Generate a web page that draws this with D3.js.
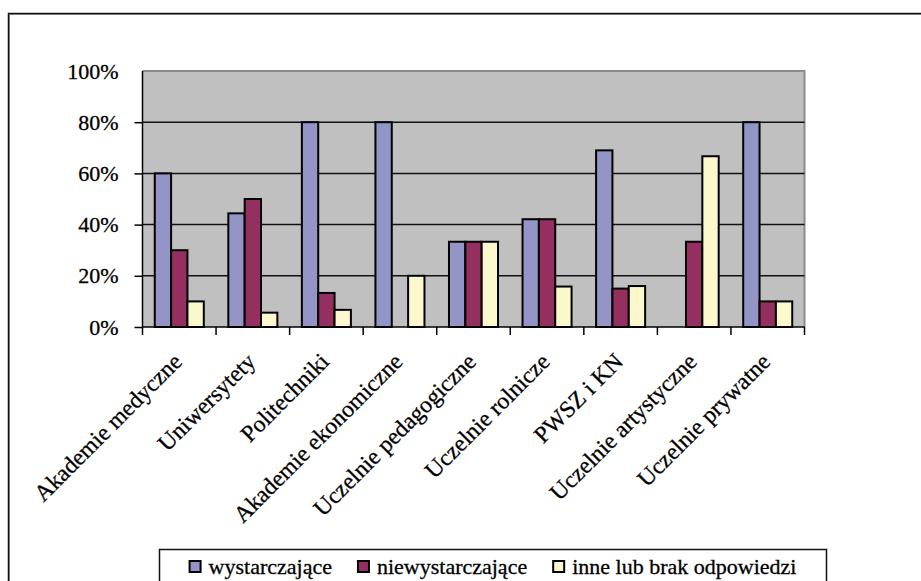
<!DOCTYPE html>
<html>
<head>
<meta charset="utf-8">
<script src="https://cdn.jsdelivr.net/npm/d3@7"></script>
<style>
  html, body { margin: 0; padding: 0; background: #fff; }
  svg { display: block; }
  svg text { font-family: "Liberation Serif", "Times New Roman", serif !important; fill: #000; stroke: #000; stroke-width: 0.3px; }
</style>
</head>
<body>
<svg id="chart" width="921" height="581"></svg>
<script>
// Type of higher-education institution
const categories = [
  "Akademie medyczne", "Uniwersytety", "Politechniki", "Akademie ekonomiczne",
  "Uczelnie pedagogiczne", "Uczelnie rolnicze", "PWSZ i KN",
  "Uczelnie artystyczne", "Uczelnie prywatne"
];
// Answer series (share of responses, %)
const seriesNames = ["wystarczające", "niewystarczające", "inne lub brak odpowiedzi"];
const wystarczajace    = [60, 44.4, 80, 80, 33.3, 42.1, 69, 0, 80];
const niewystarczajace = [30, 50, 13.3, 0, 33.3, 42.1, 15, 33.3, 10];
const inne             = [10, 5.6, 6.7, 20, 33.3, 15.8, 16, 66.7, 10];
const yTicks = [0, 20, 40, 60, 80, 100];
const seriesColors = ["#9494c7", "#952f5f", "#fbf8cd"];

const seriesValues = [wystarczajace, niewystarczajace, inne];
const serif = "'Liberation Serif', 'Times New Roman', serif";

const svg = d3.select("#chart");

// outer chart frame (runs off the right and bottom edges)
svg.append("path")
  .attr("d", "M8.5,600 V13.5 H930")
  .attr("fill", "none").attr("stroke", "#9a9a9a").attr("stroke-width", 1)
  .attr("transform", "translate(1,1)");
svg.append("path")
  .attr("d", "M8.5,600 V13.5 H930")
  .attr("fill", "none").attr("stroke", "#111").attr("stroke-width", 1.5);

const plot = { left: 142.5, right: 804.5, top: 71, bottom: 327 };

const x0 = d3.scaleBand()
  .domain(categories)
  .range([plot.left, plot.right])
  .paddingInner(0).paddingOuter(0);

const x1 = d3.scaleBand()
  .domain(d3.range(seriesNames.length))
  .range([0, x0.bandwidth()])
  .paddingInner(0).paddingOuter(0.75);

const y = d3.scaleLinear().domain([0, 100]).range([plot.bottom, plot.top]);

// plot area background
svg.append("rect")
  .attr("x", plot.left).attr("y", plot.top)
  .attr("width", plot.right - plot.left).attr("height", plot.bottom - plot.top)
  .attr("fill", "#c0c0c0");

// plot area border (top and right)
svg.append("path")
  .attr("d", `M${plot.left},${plot.top} H${plot.right} V${plot.bottom}`)
  .attr("fill", "none").attr("stroke", "#8a8a8a").attr("stroke-width", 2);

// horizontal gridlines
svg.append("g")
  .selectAll("line")
  .data(yTicks.filter(t => t > 0 && t < 100))
  .join("line")
  .attr("x1", plot.left).attr("x2", plot.right)
  .attr("y1", d => y(d)).attr("y2", d => y(d))
  .attr("stroke", "#111").attr("stroke-width", 1.5);

// bars
const groups = svg.append("g")
  .selectAll("g")
  .data(categories)
  .join("g")
  .attr("transform", d => `translate(${x0(d)},0)`);

groups.selectAll("rect")
  .data((d, i) => seriesValues.map((vals, s) => ({ s, v: vals[i] })))
  .join("rect")
  .filter(d => d.v > 0)
  .attr("x", d => x1(d.s))
  .attr("width", x1.bandwidth())
  .attr("y", d => y(d.v))
  .attr("height", d => y(0) - y(d.v))
  .attr("fill", d => seriesColors[d.s])
  .attr("stroke", "#000").attr("stroke-width", 2);

// y axis
const yAxis = d3.axisLeft(y)
  .tickValues(yTicks)
  .tickFormat(d => d + "%")
  .tickSize(8)
  .tickPadding(16);
const yg = svg.append("g")
  .attr("transform", `translate(${plot.left},0)`)
  .call(yAxis)
  .attr("font-family", serif);
yg.select(".domain").attr("stroke", "#000").attr("stroke-width", 1.5)
  .attr("d", `M0,${plot.bottom} V${plot.top}`);
yg.selectAll(".tick line").attr("stroke", "#000").attr("stroke-width", 1.5)
  .filter(d => d === 100).remove();
yg.selectAll(".tick text")
  .attr("font-size", 22)
  .style("font-family", serif)
  .attr("dy", "0.32em");

// x axis with ticks on category boundaries
const xg = svg.append("g");
xg.append("line")
  .attr("x1", plot.left).attr("x2", plot.right)
  .attr("y1", plot.bottom).attr("y2", plot.bottom)
  .attr("stroke", "#000").attr("stroke-width", 1.5);
const boundaries = categories.map(c => x0(c)).concat([plot.right]);
xg.selectAll("line.tick")
  .data(boundaries)
  .join("line")
  .attr("class", "tick")
  .attr("x1", d => d).attr("x2", d => d)
  .attr("y1", plot.bottom).attr("y2", plot.bottom + 8)
  .attr("stroke", "#000").attr("stroke-width", 1.5);

// rotated category labels
xg.selectAll("text.cat")
  .data(categories)
  .join("text")
  .attr("class", "cat")
  .attr("font-size", 23.5)
  .style("font-family", serif)
  .attr("text-anchor", "end")
  .attr("transform", d => `translate(${x0(d) + x0.bandwidth() / 2 + 4},363) rotate(-45)`)
  .text(d => d);

// legend
const legend = svg.append("g");
legend.append("path")
  .attr("d", "M159.5,600 V549.5 H826.5 V600")
  .attr("fill", "#fff").attr("stroke", "#111").attr("stroke-width", 1.5);

const items = legend.selectAll("g.item")
  .data(seriesNames)
  .join("g")
  .attr("class", "item");
items.append("rect")
  .attr("width", 11).attr("height", 11)
  .attr("y", 561)
  .attr("fill", (d, i) => seriesColors[i])
  .attr("stroke", "#000").attr("stroke-width", 2);
items.append("text")
  .attr("font-size", 22)
  .style("font-family", serif)
  .attr("y", 573.5)
  .text(d => d);

// lay items out left to right, centred in the legend box
const gapSwatch = 8, gapItem = 26;
let widths = [];
items.each(function () {
  widths.push(11 + gapSwatch + d3.select(this).select("text").node().getComputedTextLength());
});
const total = d3.sum(widths) + gapItem * (widths.length - 1);
let cx = (159.5 + 826.5) / 2 - total / 2;
items.each(function (d, i) {
  const g = d3.select(this);
  g.select("rect").attr("x", cx);
  g.select("text").attr("x", cx + 11 + gapSwatch);
  cx += widths[i] + gapItem;
});
</script>
</body>
</html>
